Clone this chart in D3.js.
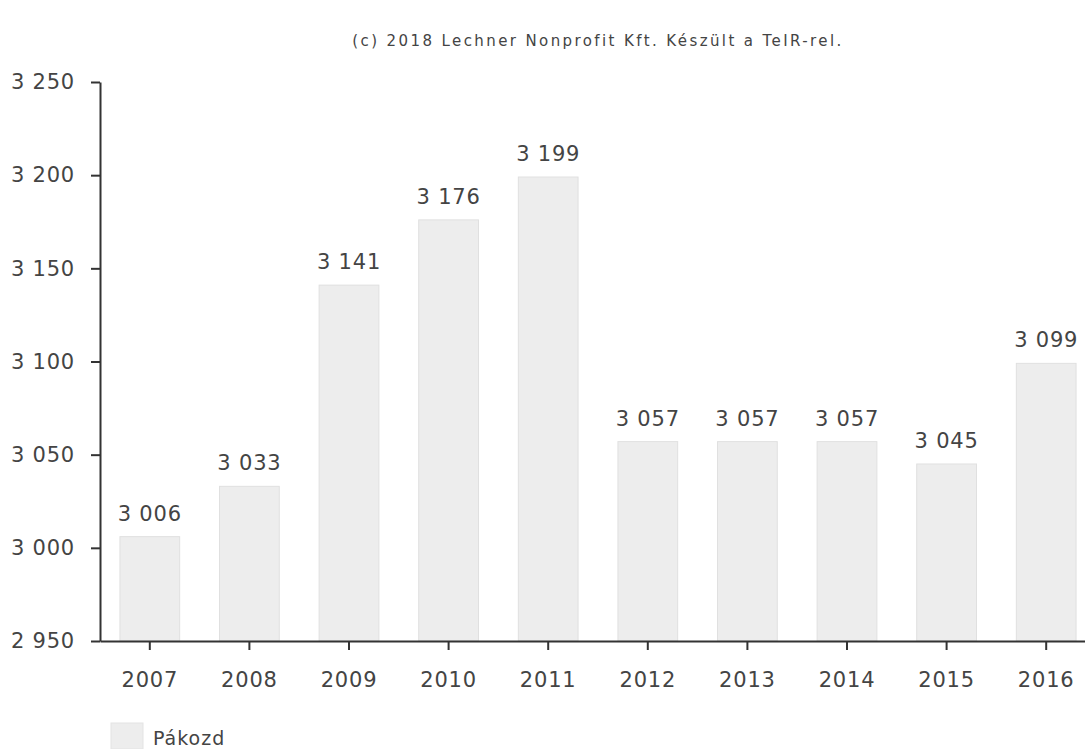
<!DOCTYPE html>
<html>
<head>
<meta charset="utf-8">
<script src="https://cdn.jsdelivr.net/npm/d3@7"></script>
<style>
body { margin: 0; background: #fff; }
#chart text { font-family: "DejaVu Sans", Verdana, sans-serif; fill: #444; }
</style>
</head>
<body>
<div id="chart"></div>
<script>
var years = ['2007', '2008', '2009', '2010', '2011', '2012', '2013', '2014', '2015', '2016'];
var values = [3006, 3033, 3141, 3176, 3199, 3057, 3057, 3057, 3045, 3099];
var yTicks = [2950, 3000, 3050, 3100, 3150, 3200, 3250];
var seriesName = 'Pákozd';
var credit = '(c) 2018 Lechner Nonprofit Kft. Készült a TeIR-rel.';

var
WIDTH = 1085,
HEIGHT = 749,
margin = {top: 82, right: -11, bottom: 108, left: 100},
width = WIDTH - margin.left - margin.right,
height = HEIGHT - margin.top - margin.bottom;

var fmt = function(v) { return d3.format(',')(v).replace(/,/g, ' '); };

var svg = d3.select('#chart')
	.append('svg')
	.attr('width', WIDTH)
	.attr('height', HEIGHT);

svg.append('text')
	.attr('x', 598)
	.attr('y', 46)
	.attr('text-anchor', 'middle')
	.style('font-size', '15px')
	.style('letter-spacing', '2.4px')
	.text(credit);

var g = svg.append('g').attr('transform', 'translate(' + margin.left + ',' + margin.top + ')');

var x = d3.scaleBand().domain(years).range([0, width]).paddingInner(0.4).paddingOuter(0.2);
var y = d3.scaleLinear().domain([2950, 3250]).range([height, 0]);

// bars
g.selectAll('rect.bar')
	.data(values)
	.enter()
	.append('rect')
	.attr('class', 'bar')
	.attr('x', function(d, i) { return x(years[i]); })
	.attr('y', function(d) { return y(d); })
	.attr('width', x.bandwidth())
	.attr('height', function(d) { return height - y(d); })
	.attr('fill', '#ededed')
	.attr('stroke', '#e0e0e0')
	.attr('stroke-width', 1);

// value labels
g.selectAll('text.val')
	.data(values)
	.enter()
	.append('text')
	.attr('class', 'val')
	.attr('x', function(d, i) { return x(years[i]) + x.bandwidth() / 2; })
	.attr('y', function(d) { return y(d) - 16; })
	.attr('text-anchor', 'middle')
	.style('font-size', '21px')
	.style('letter-spacing', '0.8px')
	.text(function(d) { return fmt(d); });

// axes
var yAxis = g.append('g')
	.call(d3.axisLeft(y).tickValues(yTicks).tickSize(9).tickSizeOuter(0).tickFormat(fmt).tickPadding(16));
var xAxis = g.append('g')
	.attr('transform', 'translate(0,' + height + ')')
	.call(d3.axisBottom(x).tickSize(9).tickSizeOuter(0).tickPadding(22));

[yAxis, xAxis].forEach(function(a) {
	a.select('.domain').attr('stroke', '#333').attr('stroke-width', 2);
	a.selectAll('.tick line').attr('stroke', '#333').attr('stroke-width', 2);
	a.selectAll('.tick text').style('font-size', '21px').style('letter-spacing', '0.8px').attr('fill', '#444');
});

// legend
var legend = svg.append('g').attr('transform', 'translate(111,723)');
legend.append('rect')
	.attr('width', 32)
	.attr('height', 26)
	.attr('fill', '#ededed')
	.attr('stroke', '#e3e3e3');
legend.append('text')
	.attr('x', 42)
	.attr('y', 22)
	.style('font-size', '19px')
	.style('letter-spacing', '1px')
	.text(seriesName);
</script>
</body>
</html>
